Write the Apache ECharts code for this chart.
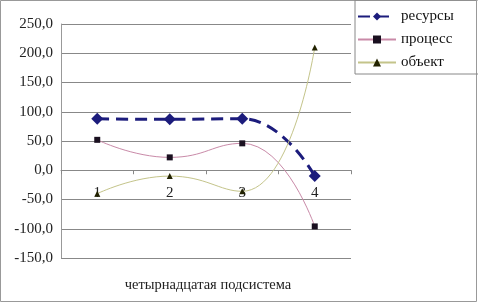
<!DOCTYPE html>
<html><head><meta charset="utf-8">
<script src="https://cdn.jsdelivr.net/npm/echarts@6/dist/echarts.min.js"></script>
<style>html,body{margin:0;padding:0;background:#fff}#c{width:478px;height:303px}</style>
</head><body><div id="c"></div>
<script>
const categories = ['1', '2', '3', '4'];
const resursy = [88, 87, 88, -10];
const protsess = [52, 22, 46, -96];
const obekt = [-40, -10, -36, 210];
const seriesNames = ['ресурсы', 'процесс', 'объект'];
const axisTitle = 'четырнадцатая подсистема';
const yMin = -150, yMax = 250, yStep = 50;

const font = 'Liberation Serif';
const gridTop = 24, gridBottom = 45, H = 303;
const plotH = H - gridTop - gridBottom;
// distance from grid bottom up to the zero line
const zeroOffset = -plotH * (0 - yMin) / (yMax - yMin);

const chart = echarts.init(document.getElementById('c'));
chart.setOption({
  animation: false,
  backgroundColor: '#fff',
  grid: { left: 61, right: 127, top: gridTop, bottom: gridBottom },
  legend: {
    orient: 'vertical', left: 355, top: 0,
    padding: [9, 30, 4, 2], itemGap: 8, itemWidth: 38, itemHeight: 10,
    borderColor: '#888', borderWidth: 1,
    textStyle: { fontFamily: font, fontSize: 15, color: '#111' },
    data: seriesNames
  },
  xAxis: {
    type: 'category', data: categories, boundaryGap: true,
    offset: zeroOffset,
    axisLine: { onZero: false, lineStyle: { color: '#888', width: 1 } },
    axisTick: { show: true, length: 4, lineStyle: { color: '#888' } },
    axisLabel: { margin: 15, fontFamily: font, fontSize: 15, color: '#222' }
  },
  yAxis: {
    type: 'value', min: yMin, max: yMax, interval: yStep,
    axisLine: { show: true, lineStyle: { color: '#999' } },
    axisTick: { show: false },
    splitLine: { lineStyle: { color: '#888', width: 1 } },
    axisLabel: { margin: 8, fontFamily: font, fontSize: 15, color: '#222',
      formatter: v => v.toFixed(1).replace('.', ',') }
  },
  series: [
    { name: seriesNames[0], type: 'line', data: resursy, smooth: 0.5,
      symbol: 'diamond', symbolSize: 12,
      lineStyle: { color: '#1c1c7c', width: 3, type: [12, 7] },
      itemStyle: { color: '#1c1c7c' } },
    { name: seriesNames[1], type: 'line', data: protsess, smooth: 0.5,
      symbol: 'rect', symbolSize: 6,
      lineStyle: { color: '#c98aa8', width: 1 },
      itemStyle: { color: '#1a1020' } },
    { name: seriesNames[2], type: 'line', data: obekt, smooth: 0.5,
      symbol: 'triangle', symbolSize: 6,
      lineStyle: { color: '#c4c48a', width: 1 },
      itemStyle: { color: '#222200' } }
  ],
  graphic: [
    { type: 'rect', shape: { x: 0.5, y: 0.5, width: 476, height: 301 },
      style: { fill: 'none', stroke: '#999', lineWidth: 1 }, silent: true },
    { type: 'text', x: 208, y: 285,
      style: { text: axisTitle, font: '14.5px "Liberation Serif"', fill: '#222',
        textAlign: 'center', textVerticalAlign: 'middle' } }
  ]
});
</script></body></html>
